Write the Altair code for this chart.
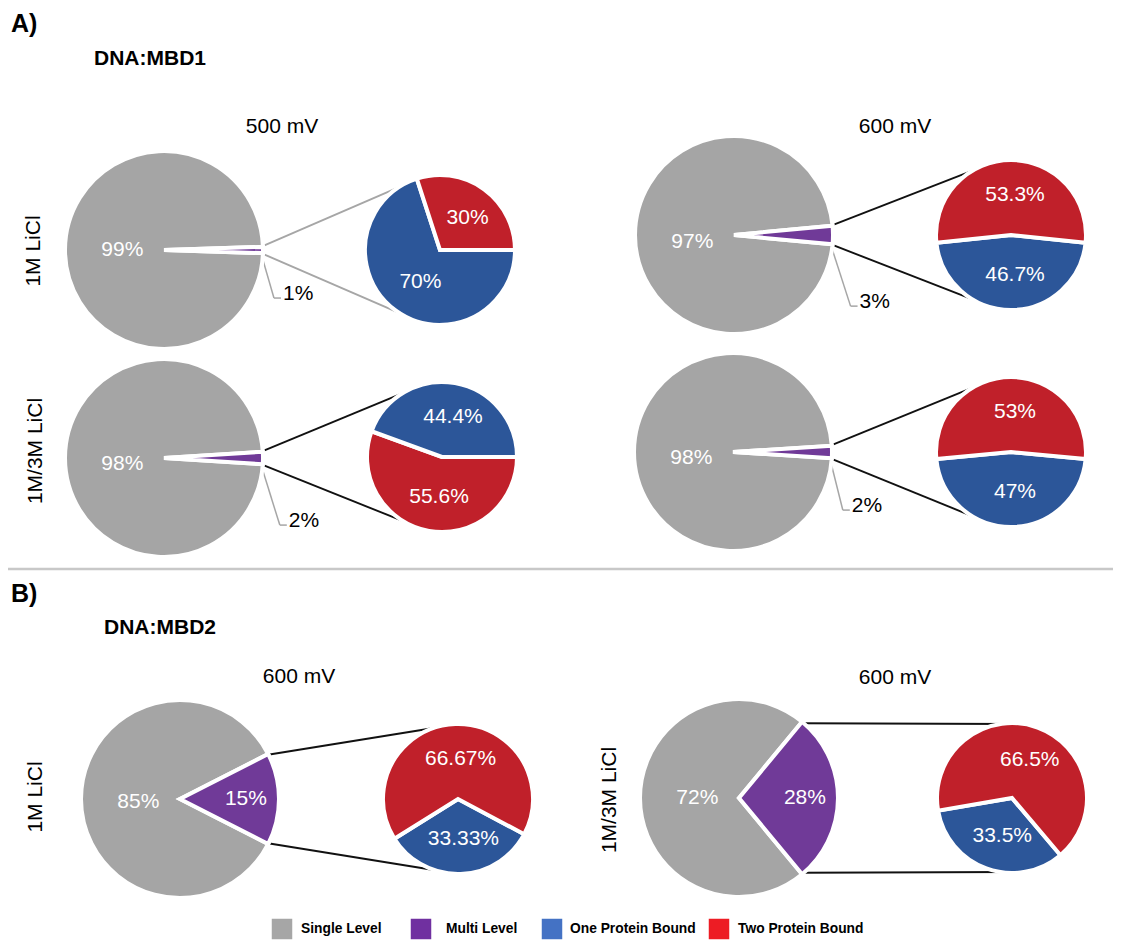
import math
import altair as alt
import pandas as pd

# ------------------------------------------------------------------ data
section_labels = ["A)", "B)"]
section_titles = ["DNA:MBD1", "DNA:MBD2"]
column_headers = ["500 mV", "600 mV", "600 mV", "600 mV"]
row_labels = ["1M LiCl", "1M/3M LiCl", "1M LiCl", "1M/3M LiCl"]

series_names = ["Single Level", "Multi Level", "One Protein Bound", "Two Protein Bound"]
# panels: A 500mV 1M, A 600mV 1M, A 500mV 1M/3M, A 600mV 1M/3M, B 1M, B 1M/3M
single_level = [99, 97, 98, 98, 85, 72]
multi_level = [1, 3, 2, 2, 15, 28]
one_protein_bound = [70, 46.7, 44.4, 47, 33.33, 33.5]
two_protein_bound = [30, 53.3, 55.6, 53, 66.67, 66.5]

# ------------------------------------------------------------------ style / layout
pie_colors = ["#a5a5a5", "#703a98", "#2c5699", "#c0202a"]
legend_colors = ["#a6a6a6", "#7030a0", "#4472c4", "#ed1c24"]
FONT = "Liberation Sans, Arial, Helvetica, sans-serif"

W, H = 1105, 932          # plot area (page margin 8px)
X0, Y0 = 8, 8
BIG_R, SMALL_R, GAP = 99, 75, 4
big_rv = BIG_R - GAP / 2
small_rv = SMALL_R - GAP / 2

panels = [
    dict(big=(164, 250), small=(440, 250), first="One Protein Bound", first_mid=216, conn="#a6a6a6", leader=(13, 45), gdy=0),
    dict(big=(734, 235), small=(1011, 235), first="One Protein Bound", first_mid=180, conn="#111111", leader=(20, 62), gdy=7),
    dict(big=(164, 458), small=(442, 457), first="Two Protein Bound", first_mid=190, conn="#111111", leader=(19, 61), gdy=6),
    dict(big=(733, 452), small=(1011, 452), first="One Protein Bound", first_mid=180, conn="#111111", leader=(13, 52), gdy=6),
    dict(big=(180, 799), small=(458, 799), first="One Protein Bound", first_mid=178, conn="#111111", leader=None, gdy=3),
    dict(big=(739, 798), small=(1012, 798), first="One Protein Bound", first_mid=200, conn="#111111", leader=None, gdy=0),
]
header_pos = [(282, 127), (895, 127), (299, 677), (895, 678)]
row_label_pos = [(34, 251), (36, 451), (36, 797), (610, 800)]
section_pos = [(11, 24), (11, 594)]
title_pos = [(94, 59), (104, 628)]
separator = (3, 1121, 569)
legend_sq_x = [282, 421, 552, 719]
legend_text_x = [301, 446, 570, 738]
legend_y = 929


def pt(c, r, deg):
    t = math.radians(deg)
    return (c[0] + r * math.sin(t), c[1] - r * math.cos(t))


def tangent(p, c, r, upper):
    dx, dy = p[0] - c[0], p[1] - c[1]
    d = math.hypot(dx, dy)
    th = math.degrees(math.atan2(dx, -dy))
    al = math.degrees(math.acos(r / d))
    return pt(c, r, th + al if upper else th - al)


def fmt(v):
    return f"{v:g}%"


big_rows, small_rows, in_labels, out_labels, conns, leaders = [], [], [], [], [], []
for i, p in enumerate(panels):
    s, m = single_level[i], multi_level[i]
    half = m * 1.8
    bc, sc = p["big"], p["small"]
    big_rows.append(dict(cx=bc[0], cy=bc[1], a0=90 + half, a1=450 - half, series=series_names[0]))
    big_rows.append(dict(cx=bc[0], cy=bc[1], a0=90 - half, a1=90 + half, series=series_names[1]))
    lx, ly = pt(bc, 0.43 * big_rv, 270)
    in_labels.append(dict(x=lx, y=ly + p["gdy"], label=fmt(s)))
    if p["leader"] is None:
        lx, ly = pt(bc, 0.68 * big_rv, 90)
        in_labels.append(dict(x=lx, y=ly, label=fmt(m)))
    else:
        sx0, sy0 = pt(bc, big_rv, 90 + half)
        ex, ey = sx0 + p["leader"][0], sy0 + p["leader"][1]
        leaders.append(dict(x=sx0, y=sy0, x2=ex, y2=ey))
        leaders.append(dict(x=ex, y=ey, x2=ex + 7, y2=ey))
        out_labels.append(dict(x=ex + 9, y=ey + 2, label=fmt(m)))
    vals = {"One Protein Bound": one_protein_bound[i], "Two Protein Bound": two_protein_bound[i]}
    order = [p["first"]] + [k for k in vals if k != p["first"]]
    a = p["first_mid"] - vals[order[0]] * 1.8
    for name in order:
        a1 = a + vals[name] * 3.6
        small_rows.append(dict(cx=sc[0], cy=sc[1], a0=a, a1=a1, series=name))
        lx, ly = pt(sc, 0.55 * small_rv, (a + a1) / 2)
        in_labels.append(dict(x=lx + 4, y=ly, label=fmt(vals[name])))
        a = a1
    up = pt(bc, big_rv, 90 - half)
    dn = pt(bc, big_rv, 90 + half)
    tu = tangent(up, sc, small_rv + 1, True)
    td = tangent(dn, sc, small_rv + 1, False)
    conns.append(dict(x=up[0], y=up[1], x2=tu[0], y2=tu[1], col=p["conn"]))
    conns.append(dict(x=dn[0], y=dn[1], x2=td[0], y2=td[1], col=p["conn"]))

xs = alt.Scale(domain=[X0, X0 + W], nice=False, zero=False)
ys = alt.Scale(domain=[Y0, Y0 + H], nice=False, zero=False, reverse=True)
ts = alt.Scale(domain=[0, 360], range=[0, 2 * math.pi], zero=False, nice=False)
pie_scale = alt.Scale(domain=series_names, range=pie_colors)

X = alt.X("x:Q", scale=xs, axis=None)
Y = alt.Y("y:Q", scale=ys, axis=None)


def arc_layer(rows, radius):
    return alt.Chart(pd.DataFrame(rows)).mark_arc(
        radius=radius, stroke="white", strokeWidth=GAP, strokeJoin="miter"
    ).encode(
        x=alt.X("cx:Q", scale=xs, axis=None),
        y=alt.Y("cy:Q", scale=ys, axis=None),
        theta=alt.Theta("a0:Q", scale=ts, stack=None),
        theta2="a1:Q",
        color=alt.Color("series:N", scale=pie_scale, legend=None),
    )


big_layer = arc_layer(big_rows, BIG_R)
small_layer = arc_layer(small_rows, SMALL_R)

conn_layer = alt.Chart(pd.DataFrame(conns)).mark_rule(strokeWidth=1.9).encode(
    x=X, y=Y, x2="x2:Q", y2="y2:Q", stroke=alt.Stroke("col:N", scale=None)
)
leader_layer = alt.Chart(pd.DataFrame(leaders)).mark_rule(strokeWidth=1.5, color="#a6a6a6").encode(
    x=X, y=Y, x2="x2:Q", y2="y2:Q"
)
sep_layer = alt.Chart(pd.DataFrame([dict(x=separator[0], x2=separator[1], y=separator[2])])).mark_rule(
    strokeWidth=2.5, color="#c8c8c8"
).encode(x=X, x2="x2:Q", y=Y)

in_text = alt.Chart(pd.DataFrame(in_labels)).mark_text(
    font=FONT, fontSize=21, color="white", align="center", baseline="middle"
).encode(x=X, y=Y, text="label:N")
out_text = alt.Chart(pd.DataFrame(out_labels)).mark_text(
    font=FONT, fontSize=21, color="black", align="left", baseline="alphabetic"
).encode(x=X, y=Y, text="label:N")

hdr_df = pd.DataFrame([dict(x=p[0], y=p[1], label=t) for p, t in zip(header_pos, column_headers)])
hdr_text = alt.Chart(hdr_df).mark_text(
    font=FONT, fontSize=21, color="black", align="center", baseline="middle"
).encode(x=X, y=Y, text="label:N")

row_df = pd.DataFrame([dict(x=p[0], y=p[1], label=t) for p, t in zip(row_label_pos, row_labels)])
row_text = alt.Chart(row_df).mark_text(
    font=FONT, fontSize=21, color="black", align="center", baseline="middle", angle=270
).encode(x=X, y=Y, text="label:N")

sec_df = pd.DataFrame([dict(x=p[0], y=p[1], label=t) for p, t in zip(section_pos, section_labels)])
sec_text = alt.Chart(sec_df).mark_text(
    font=FONT, fontSize=25, fontWeight="bold", color="black", align="left", baseline="middle"
).encode(x=X, y=Y, text="label:N")

ttl_df = pd.DataFrame([dict(x=p[0], y=p[1], label=t) for p, t in zip(title_pos, section_titles)])
ttl_text = alt.Chart(ttl_df).mark_text(
    font=FONT, fontSize=21, fontWeight="bold", color="black", align="left", baseline="middle"
).encode(x=X, y=Y, text="label:N")

leg_df = pd.DataFrame([
    dict(x=sx, xt=tx, y=legend_y, label=n, col=c)
    for sx, tx, n, c in zip(legend_sq_x, legend_text_x, series_names, legend_colors)
])
leg_sq = alt.Chart(leg_df).mark_square(size=420, opacity=1, filled=True).encode(
    x=X, y=Y, fill=alt.Fill("col:N", scale=None)
)
leg_text = alt.Chart(leg_df).mark_text(
    font=FONT, fontSize=13.8, fontWeight="bold", color="black", align="left", baseline="middle"
).encode(x=alt.X("xt:Q", scale=xs, axis=None), y=Y, text="label:N")

chart = alt.layer(
    sep_layer, conn_layer, leader_layer, big_layer, small_layer,
    in_text, out_text, hdr_text, row_text, sec_text, ttl_text, leg_sq, leg_text,
).properties(
    width=W, height=H, padding=0, autosize=alt.AutoSizeParams(type="none")
).configure_view(stroke=None)

chart.save("out.html", embed_options={"renderer": "svg", "actions": False})
